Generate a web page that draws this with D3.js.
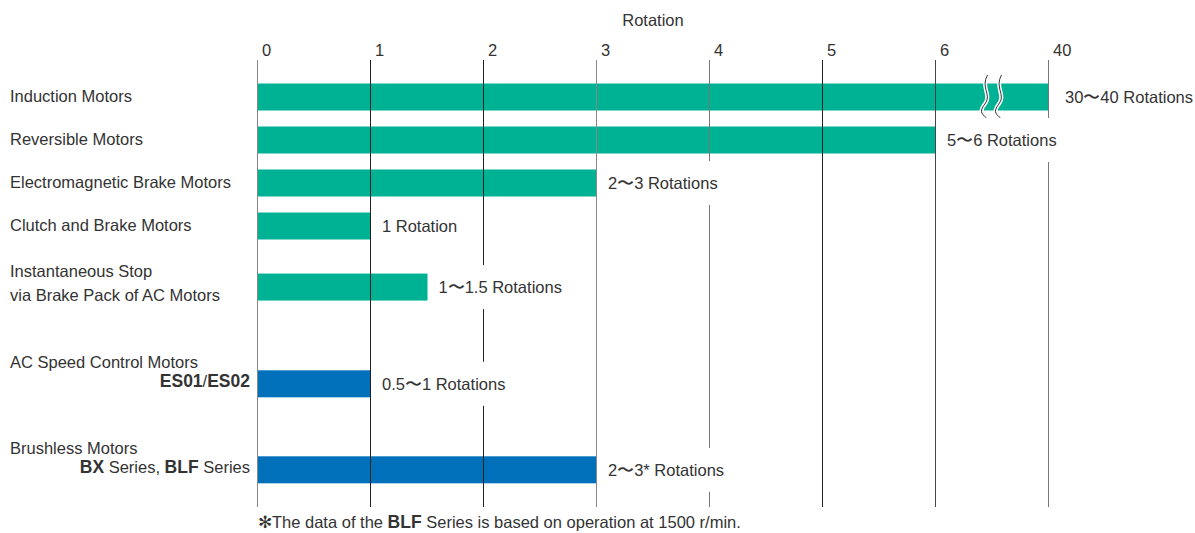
<!DOCTYPE html>
<html>
<head>
<meta charset="utf-8">
<script src="https://cdn.jsdelivr.net/npm/d3@7"></script>
<style>
  body { margin: 0; background: #fff; }
  svg text { font-family: 'Liberation Sans', Arial, sans-serif; fill: #333; }
</style>
</head>
<body>
<svg width="1195" height="533"></svg>
<script>
// data
const motorNames = [
  ['Induction Motors'],
  ['Reversible Motors'],
  ['Electromagnetic Brake Motors'],
  ['Clutch and Brake Motors'],
  ['Instantaneous Stop', 'via Brake Pack of AC Motors'],
  ['AC Speed Control Motors', [['ES01', true], ['/', false], ['ES02', true]]],
  ['Brushless Motors', [['BX', true], [' Series, ', false], ['BLF', true], [' Series', false]]]
];
const rotations = [40, 6, 3, 1, 1.5, 1, 3];
const rotationLabels = ['30〜40 Rotations', '5〜6 Rotations', '2〜3 Rotations', '1 Rotation',
  '1〜1.5 Rotations', '0.5〜1 Rotations', '2〜3* Rotations'];
const motorGroup = ['ac', 'ac', 'ac', 'ac', 'ac', 'control', 'control'];
const tickValues = [0, 1, 2, 3, 4, 5, 6, 40];

// layout (row slots, one unit = one regular row step)
const rowSlot = [0, 1, 2, 3, 4.42, 6.67, 8.67];
const groupColor = { ac: '#00b294', control: '#0070ba' };
const gridColor = ['#888', '#222', '#222', '#888', '#777', '#222', '#444', '#777'];

const svg = d3.select('svg');
const fontSize = 16.5;

const x = d3.scaleLinear().domain([0, 6, 40]).range([258, 936, 1049]);
const y = d3.scaleLinear().domain([0, 1]).range([97, 140]);
const barH = 27;
const gridTop = 60, gridBottom = 507;

// bars
svg.append('g').selectAll('rect')
  .data(rotations)
  .join('rect')
    .attr('x', x(0))
    .attr('y', (d, i) => y(rowSlot[i]) - barH / 2)
    .attr('width', d => x(d) - x(0))
    .attr('height', barH)
    .attr('fill', (d, i) => groupColor[motorGroup[i]]);

// axis break on the long bar
const breakG = svg.append('g');
const bx = (x(6) + x(40)) / 2;
[-7, 7].forEach(off => {
  const cx = bx + off, cy = y(0);
  const wave = `M${cx + 2},${cy - 22} C${cx - 5},${cy - 10} ${cx + 6},${cy - 2} ${cx},${cy + 6} S${cx - 5},${cy + 16} ${cx + 1},${cy + 21}`;
  breakG.append('path').attr('d', wave).attr('fill', 'none').attr('stroke', '#fff').attr('stroke-width', 4);
  breakG.append('path').attr('d', wave).attr('fill', 'none').attr('stroke', '#333').attr('stroke-width', 1);
});

// grid lines
svg.append('g').selectAll('line')
  .data(tickValues)
  .join('line')
    .attr('x1', d => Math.round(x(d)) - 0.5)
    .attr('x2', d => Math.round(x(d)) - 0.5)
    .attr('y1', gridTop)
    .attr('y2', gridBottom)
    .attr('stroke', (d, i) => gridColor[i])
    .attr('stroke-width', 1);

// tick labels
svg.append('g').selectAll('text')
  .data(tickValues)
  .join('text')
    .attr('x', d => x(d) + 4)
    .attr('y', 56)
    .attr('font-size', fontSize)
    .text(d => d);

svg.append('text')
  .attr('x', 653)
  .attr('y', 26)
  .attr('text-anchor', 'middle')
  .attr('font-size', fontSize)
  .text('Rotation');

// value labels with white backing that cuts the grid lines
const valG = svg.append('g');
rotationLabels.forEach((lab, i) => {
  const cy = y(rowSlot[i]);
  const g = valG.append('g');
  const bg = g.append('rect').attr('fill', '#fff');
  const t = g.append('text')
    .attr('x', x(rotations[i]) + (i === 0 ? 16 : 11))
    .attr('y', cy + 6)
    .attr('font-size', fontSize)
    .text(lab);
  const bb = t.node().getBBox();
  bg.attr('x', bb.x - 5).attr('width', bb.width + 10)
    .attr('y', cy - 22).attr('height', 44);
});

// category labels
const catG = svg.append('g');
motorNames.forEach((lines, i) => {
  const cy = y(rowSlot[i]);
  if (lines.length === 1) {
    catG.append('text').attr('x', 10).attr('y', cy + 5)
      .attr('font-size', fontSize).text(lines[0]);
  } else if (typeof lines[1] === 'string') {
    catG.append('text').attr('x', 10).attr('y', cy - 10)
      .attr('font-size', fontSize).text(lines[0]);
    catG.append('text').attr('x', 10).attr('y', cy + 14)
      .attr('font-size', fontSize).text(lines[1]);
  } else {
    catG.append('text').attr('x', 10).attr('y', cy - 16)
      .attr('font-size', fontSize).text(lines[0]);
    const t = catG.append('text').attr('x', 250).attr('y', cy + 3)
      .attr('text-anchor', 'end').attr('font-size', fontSize);
    lines[1].forEach(([s, b]) => {
      t.append('tspan').attr('font-weight', b ? 'bold' : null)
        .attr('font-size', b ? fontSize + 1 : fontSize)
        .text(s);
    });
  }
});

// footnote
const foot = svg.append('text').attr('x', 258).attr('y', 528).attr('font-size', fontSize);
foot.append('tspan').text('✻The data of the ');
foot.append('tspan').attr('font-weight', 'bold').attr('font-size', fontSize + 1).text('BLF');
foot.append('tspan').text(' Series is based on operation at 1500 r/min.');
</script>
</body>
</html>
